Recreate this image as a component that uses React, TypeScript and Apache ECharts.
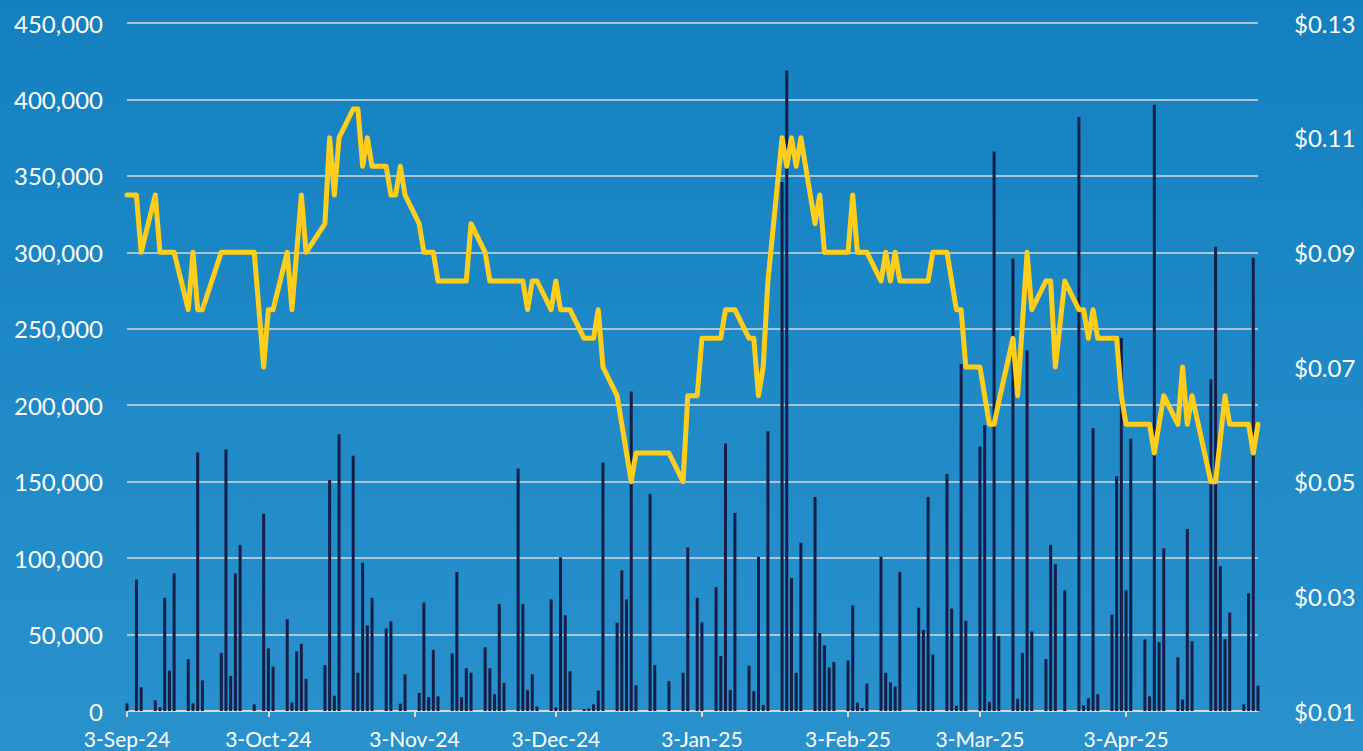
import React, { useEffect, useRef } from "react";
import * as echarts from "echarts";

// Trading days (date strings), daily volume (shares) and closing price (USD)
const tradeDates: string[] = [
  // Sep 2024
  "2024-09-03", "2024-09-05", "2024-09-06", "2024-09-09", "2024-09-10", "2024-09-11", "2024-09-12", "2024-09-13",
  "2024-09-16", "2024-09-17", "2024-09-18", "2024-09-19", "2024-09-23", "2024-09-24", "2024-09-25", "2024-09-26",
  "2024-09-27", "2024-09-30",
  // Oct 2024
  "2024-10-02", "2024-10-03", "2024-10-04", "2024-10-07", "2024-10-08", "2024-10-09", "2024-10-10", "2024-10-11",
  "2024-10-15", "2024-10-16", "2024-10-17", "2024-10-18", "2024-10-21", "2024-10-22", "2024-10-23", "2024-10-24",
  "2024-10-25", "2024-10-28", "2024-10-29", "2024-10-30", "2024-10-31",
  // Nov 2024
  "2024-11-01", "2024-11-04", "2024-11-05", "2024-11-06", "2024-11-07", "2024-11-08", "2024-11-11", "2024-11-12",
  "2024-11-13", "2024-11-14", "2024-11-15", "2024-11-18", "2024-11-19", "2024-11-20", "2024-11-21", "2024-11-22",
  "2024-11-25", "2024-11-26", "2024-11-27", "2024-11-28", "2024-11-29",
  // Dec 2024
  "2024-12-02", "2024-12-03", "2024-12-04", "2024-12-05", "2024-12-06", "2024-12-09", "2024-12-10", "2024-12-11",
  "2024-12-12", "2024-12-13", "2024-12-16", "2024-12-17", "2024-12-18", "2024-12-19", "2024-12-20", "2024-12-23",
  "2024-12-24", "2024-12-27", "2024-12-30", "2024-12-31",
  // Jan 2025
  "2025-01-02", "2025-01-03", "2025-01-06", "2025-01-07", "2025-01-08", "2025-01-09", "2025-01-10", "2025-01-13",
  "2025-01-14", "2025-01-15", "2025-01-16", "2025-01-17", "2025-01-20", "2025-01-21", "2025-01-22", "2025-01-23",
  "2025-01-24", "2025-01-27", "2025-01-28", "2025-01-29", "2025-01-30", "2025-01-31",
  // Feb 2025
  "2025-02-03", "2025-02-04", "2025-02-05", "2025-02-06", "2025-02-07", "2025-02-10", "2025-02-11", "2025-02-12",
  "2025-02-13", "2025-02-14", "2025-02-18", "2025-02-19", "2025-02-20", "2025-02-21", "2025-02-24", "2025-02-25",
  "2025-02-26", "2025-02-27", "2025-02-28",
  // Mar 2025
  "2025-03-03", "2025-03-04", "2025-03-05", "2025-03-06", "2025-03-07", "2025-03-10", "2025-03-11", "2025-03-12",
  "2025-03-13", "2025-03-14", "2025-03-17", "2025-03-18", "2025-03-19", "2025-03-21", "2025-03-24", "2025-03-25",
  "2025-03-26", "2025-03-27", "2025-03-28", "2025-03-31",
  // Apr 2025
  "2025-04-01", "2025-04-02", "2025-04-03", "2025-04-04", "2025-04-07", "2025-04-08", "2025-04-09", "2025-04-10",
  "2025-04-11", "2025-04-14", "2025-04-15", "2025-04-16", "2025-04-17", "2025-04-21", "2025-04-22", "2025-04-23",
  "2025-04-24", "2025-04-25", "2025-04-28", "2025-04-29", "2025-04-30",
  // May 2025
  "2025-05-01",
];

const volumes: (number | null)[] = [
  // Sep
  5000, 86000, 15500, 7000, 2400, 74000, 26500, 90000, 34000, 5000, 169000, 20000, 38000, 171000, 23000, 90000,
  108600, 4300,
  // Oct
  129000, 41000, 29000, 60000, 5600, 39000, 44000, 21000, 30000, 151000, 10000, 181000, 167000, 25000, 97000, 56000,
  74000, 54000, 58600, null, 4800,
  // Nov
  24000, 11800, 71000, 9000, 40000, 9600, 37700, 91000, 9000, 28000, 25000, 41700, 28000, 11000, 70000, 18400,
  158600, 70000, 13600, 24000, 2900,
  // Dec
  73000, 2400, 100500, 62600, 26000, 1300, 1600, 4300, 13400, 162600, 57800, 92000, 73000, 209000, 16800, 142000,
  30000, 19500, 25000, 107000,
  // Jan
  74000, 58000, 81000, 36000, 175000, 13800, 129600, 29600, 13000, 100800, 4000, 183000, 346000, 419000, 87000, 25000,
  110000, 140000, 51000, 43000, 28500, 32000,
  // Feb
  33000, 69000, 5500, 2000, 18000, 101000, 25000, 18700, 16000, 91000, 67600, 53000, 140000, 37000, 155000, 67000,
  3500, 227000, 59000,
  // Mar
  173000, 187000, 6000, 366000, 49000, 296000, 8000, 38000, 236000, 52000, 34000, 108600, 96000, 79000, 388500, 3700,
  8300, 185000, 11000, 63000,
  // Apr
  153500, 244000, 79000, 178000, 46800, 9600, 396500, 45000, 106400, 35000, 7500, 119000, 45700, 217000, 303700, 94700,
  47000, 64400, 4300, 77000, 296500,
  // May
  16600,
];

const prices: number[] = [
  // Sep
  0.1, 0.1, 0.09, 0.1, 0.09, 0.09, 0.09, 0.09, 0.08, 0.09, 0.08, 0.08, 0.09, 0.09, 0.09, 0.09,
  0.09, 0.09,
  // Oct
  0.07, 0.08, 0.08, 0.09, 0.08, 0.09, 0.1, 0.09, 0.095, 0.11, 0.1, 0.11, 0.115, 0.115, 0.105, 0.11,
  0.105, 0.105, 0.1, 0.1, 0.105,
  // Nov
  0.1, 0.095, 0.09, 0.09, 0.09, 0.085, 0.085, 0.085, 0.085, 0.085, 0.095, 0.09, 0.085, 0.085, 0.085, 0.085,
  0.085, 0.085, 0.08, 0.085, 0.085,
  // Dec
  0.08, 0.085, 0.08, 0.08, 0.08, 0.075, 0.075, 0.075, 0.08, 0.07, 0.065, 0.06, 0.055, 0.05, 0.055, 0.055,
  0.055, 0.055, 0.05, 0.065,
  // Jan
  0.065, 0.075, 0.075, 0.075, 0.08, 0.08, 0.08, 0.075, 0.075, 0.065, 0.07, 0.085, 0.11, 0.105, 0.11, 0.105,
  0.11, 0.095, 0.1, 0.09, 0.09, 0.09,
  // Feb
  0.09, 0.1, 0.09, 0.09, 0.09, 0.085, 0.09, 0.085, 0.09, 0.085, 0.085, 0.085, 0.085, 0.09, 0.09, 0.085,
  0.08, 0.08, 0.07,
  // Mar
  0.07, 0.065, 0.06, 0.06, 0.064, 0.075, 0.065, 0.0775, 0.09, 0.08, 0.085, 0.085, 0.07, 0.085, 0.08, 0.08,
  0.075, 0.08, 0.075, 0.075,
  // Apr
  0.075, 0.065, 0.06, 0.06, 0.06, 0.06, 0.055, 0.06, 0.065, 0.06, 0.07, 0.06, 0.065, 0.05, 0.05, 0.0575,
  0.065, 0.06, 0.06, 0.06, 0.055,
  // May
  0.06,
];

const axisStart = "2024-09-03";
const axisEnd = "2025-05-01";
const labelDayOfMonth = 3;
const monthNames = ["Jan", "Feb", "Mar", "Apr", "May", "Jun", "Jul", "Aug", "Sep", "Oct", "Nov", "Dec"];

const volumeAxis = { min: 0, max: 450000, interval: 50000 };
const priceAxis = { min: 0.01, max: 0.13, interval: 0.02 };

function buildCalendar(start: string, end: string): string[] {
  const out: string[] = [];
  const d = new Date(start + "T00:00:00Z");
  const e = new Date(end + "T00:00:00Z");
  while (d.getTime() <= e.getTime()) {
    out.push(d.toISOString().slice(0, 10));
    d.setUTCDate(d.getUTCDate() + 1);
  }
  return out;
}

function fmtDate(s: string): string {
  const [y, m, d] = s.split("-");
  return `${parseInt(d, 10)}-${monthNames[parseInt(m, 10) - 1]}-${y.slice(2)}`;
}

const FONT = "Lato, 'Open Sans', sans-serif";

export default function App() {
  const ref = useRef<HTMLDivElement>(null);

  useEffect(() => {
    if (!ref.current) return;
    document.body.style.margin = "0";
    const chart = echarts.init(ref.current, undefined, { renderer: "svg" });

    const calendar = buildCalendar(axisStart, axisEnd);
    const volMap = new Map<string, number | null>();
    const priceMap = new Map<string, number>();
    tradeDates.forEach((dt, i) => {
      volMap.set(dt, volumes[i]);
      priceMap.set(dt, prices[i]);
    });
    const volData = calendar.map((dt) => (volMap.has(dt) ? volMap.get(dt)! : null));
    const priceData = calendar.map((dt) => (priceMap.has(dt) ? priceMap.get(dt)! : null));
    const isLabelDay = (_i: number, v: string) => parseInt(v.slice(8, 10), 10) === labelDayOfMonth;

    chart.setOption({
      animation: false,
      backgroundColor: new echarts.graphic.LinearGradient(0, 0, 0, 1, [
        { offset: 0, color: "#1480c0" },
        { offset: 1, color: "#2992cd" },
      ]),
      grid: { left: 127, right: 105, top: 23, bottom: 40, containLabel: false },
      xAxis: {
        type: "category",
        data: calendar,
        boundaryGap: false,
        axisLine: { show: true, lineStyle: { color: "#d9d9d9", width: 2 } },
        axisTick: {
          show: true,
          interval: isLabelDay,
          length: 6,
          lineStyle: { color: "#d9d9d9", width: 2 },
        },
        axisLabel: {
          interval: isLabelDay,
          formatter: (v: string) => fmtDate(v),
          color: "#ffffff",
          fontFamily: FONT,
          fontSize: 21,
          margin: 17,
        },
        splitLine: { show: false },
      },
      yAxis: [
        {
          type: "value",
          min: volumeAxis.min,
          max: volumeAxis.max,
          interval: volumeAxis.interval,
          axisLine: { show: false },
          axisTick: { show: false },
          axisLabel: {
            color: "#ffffff",
            fontFamily: FONT,
            fontSize: 24,
            margin: 24,
            formatter: (v: number) => v.toLocaleString("en-US"),
          },
          splitLine: { show: true, lineStyle: { color: "#d9d9d9", width: 1.5 } },
        },
        {
          type: "value",
          position: "right",
          min: priceAxis.min,
          max: priceAxis.max,
          interval: priceAxis.interval,
          axisLine: { show: false },
          axisTick: { show: false },
          axisLabel: {
            color: "#ffffff",
            fontFamily: FONT,
            fontSize: 24,
            margin: 36,
            formatter: (v: number) => "$" + v.toFixed(2),
          },
          splitLine: { show: false },
        },
      ],
      series: [
        {
          type: "bar",
          name: "Volume",
          yAxisIndex: 0,
          data: volData,
          barWidth: 3,
          itemStyle: { color: "#161e48" },
          z: 2,
        },
        {
          type: "line",
          name: "Price",
          yAxisIndex: 1,
          data: priceData,
          connectNulls: true,
          showSymbol: false,
          symbol: "none",
          lineStyle: { color: "#ffcd1c", width: 5, join: "round", cap: "round" },
          z: 3,
        },
      ],
    });

    return () => chart.dispose();
  }, []);

  return (
    <div
      ref={ref}
      style={{ position: "fixed", left: 0, top: 0, width: 1363, height: 751 }}
    />
  );
}
